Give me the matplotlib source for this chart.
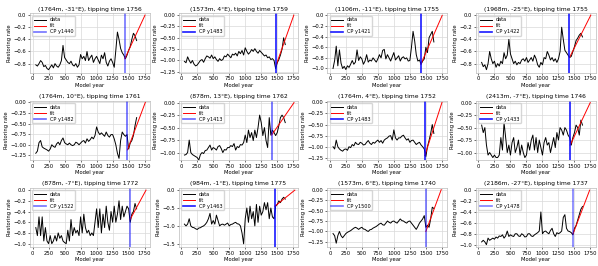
import numpy as np
import matplotlib.pyplot as plt
from matplotlib.ticker import MultipleLocator

# model years of the data series (every 25 years)
years = np.arange(50, 1626, 25)

titles = [
    "(1764m, -31°E), tipping time 1756", "(1573m, 4°E), tipping time 1759",
    "(1106m, -11°E), tipping time 1755", "(1968m, -25°E), tipping time 1755",
    "(1764m, 10°E), tipping time 1761", "(878m, 13°E), tipping time 1762",
    "(1764m, 4°E), tipping time 1752", "(2413m, -7°E), tipping time 1746",
    "(878m, -7°E), tipping time 1772", "(984m, -1°E), tipping time 1775",
    "(1573m, 6°E), tipping time 1740", "(2186m, -27°E), tipping time 1737",
]
tipping = [1756, 1759, 1755, 1755, 1761, 1762, 1752, 1746, 1772, 1775, 1740, 1737]
cp_year = [1440, 1483, 1421, 1422, 1482, 1413, 1483, 1433, 1522, 1463, 1500, 1478]
cp_value = [-0.72, -1.10, -0.92, -0.70, -1.12, -0.65, -1.20, -0.85, -0.55, -0.45, -1.00, -0.80]

rate1 = [-0.82, -0.84, -0.80, -0.75, -0.78, -0.85, -0.83, -0.88,
         -0.90, -0.86, -0.82, -0.87, -0.80, -0.84, -0.86, -0.82,
         -0.75, -0.50, -0.70, -0.74, -0.78, -0.80, -0.76, -0.82,
         -0.84, -0.80, -0.86, -0.82, -0.65, -0.72, -0.68, -0.75,
         -0.60, -0.75, -0.70, -0.66, -0.78, -0.72, -0.68, -0.74,
         -0.80, -0.66, -0.72, -0.62, -0.78, -0.84, -0.76, -0.72,
         -0.78, -0.86, -0.58, -0.28, -0.40, -0.55, -0.62, -0.66,
         -0.72, -0.66, -0.58, -0.52, -0.40, -0.30, -0.34, -0.42]
rate2 = [-1.02, -1.05, -0.92, -1.00, -1.06, -1.00, -1.08, -1.12,
         -1.10, -1.05, -1.00, -0.98, -1.04, -0.96, -0.90, -0.92,
         -0.95, -0.88, -0.96, -0.92, -0.98, -1.02, -0.96, -1.00,
         -0.98, -0.90, -0.92, -0.86, -0.90, -0.94, -0.86, -0.88,
         -0.84, -0.90, -0.80, -0.85, -0.78, -0.88, -0.72, -0.80,
         -0.86, -0.82, -0.76, -0.80, -0.74, -0.80, -0.84, -0.78,
         -0.82, -0.86, -0.90, -0.88, -0.94, -0.92, -0.98, -0.96,
         -1.00, -1.18, -1.05, -0.98, -0.88, -0.75, -0.50, -0.65]
rate3 = [-1.00, -0.85, -0.58, -0.95, -0.65, -0.90, -1.00, -0.96,
         -1.02, -0.95, -0.98, -0.92, -0.85, -0.92, -0.88, -0.65,
         -0.85, -0.78, -0.82, -0.92, -0.86, -0.74, -0.88, -0.84,
         -0.86, -0.80, -0.84, -0.88, -0.82, -0.74, -0.80, -0.66,
         -0.64, -0.82, -0.74, -0.80, -0.86, -0.78, -0.70, -0.84,
         -0.80, -0.76, -0.86, -0.80, -0.78, -0.82, -0.80, -0.86,
         -0.85, -0.60, -0.30, -0.48, -0.74, -0.86, -0.84, -0.92,
         -0.86, -0.82, -0.60, -0.70, -0.42, -0.36, -0.30, -0.50]
rate4 = [-0.78, -0.85, -0.82, -0.90, -0.80, -0.60, -0.72, -0.80,
         -0.76, -0.86, -0.80, -0.84, -0.76, -0.80, -0.62, -0.72,
         -0.66, -0.40, -0.64, -0.72, -0.80, -0.76, -0.82, -0.78,
         -0.80, -0.74, -0.72, -0.76, -0.70, -0.78, -0.74, -0.70,
         -0.76, -0.66, -0.72, -0.82, -0.86, -0.78, -0.82, -0.70,
         -0.72, -0.60, -0.66, -0.74, -0.70, -0.76, -0.72, -0.78,
         -0.72, -0.60, -0.20, -0.40, -0.58, -0.62, -0.66, -0.70,
         -0.68, -0.60, -0.52, -0.42, -0.38, -0.33, -0.30, -0.36]
rate5 = [-1.20, -1.15, -0.95, -0.90, -1.05, -1.08, -1.10, -1.12,
         -1.15, -1.10, -1.00, -1.04, -1.06, -0.98, -0.94, -1.00,
         -0.90, -0.84, -0.95, -0.98, -1.00, -0.96, -1.00, -1.02,
         -1.00, -0.94, -0.96, -1.00, -0.96, -0.92, -0.90, -0.96,
         -0.86, -0.92, -0.88, -0.82, -0.86, -0.78, -0.58, -0.70,
         -0.76, -0.72, -0.76, -0.80, -0.70, -0.78, -0.82, -0.76,
         -0.76, -0.86, -1.00, -1.20, -1.32, -0.90, -0.70, -0.76,
         -0.80, -0.76, -1.10, -0.96, -0.90, -0.78, -0.55, -0.36]
rate6 = [-1.05, -1.04, -1.00, -0.75, -1.00, -1.04, -1.06, -1.08,
         -1.10, -1.15, -1.04, -1.00, -1.02, -0.96, -0.95, -0.90,
         -0.85, -0.95, -0.90, -0.92, -0.95, -0.88, -0.86, -0.92,
         -1.00, -0.94, -0.95, -0.90, -0.90, -0.86, -0.88, -0.82,
         -0.95, -0.88, -0.90, -0.84, -0.85, -0.80, -0.65, -0.80,
         -0.55, -0.70, -0.60, -0.76, -0.55, -0.70, -0.50, -0.25,
         -0.40, -0.66, -0.50, -0.76, -0.90, -0.30, -0.65, -0.55,
         -0.60, -0.66, -0.60, -0.46, -0.30, -0.25, -0.30, -0.40]
rate7 = [-1.00, -1.05, -0.85, -1.00, -1.05, -1.08, -1.10, -1.06,
         -1.05, -1.08, -1.00, -1.02, -0.95, -0.98, -0.90, -0.94,
         -0.95, -0.90, -0.92, -0.96, -0.95, -0.90, -0.86, -0.92,
         -0.95, -0.90, -0.92, -0.88, -0.85, -0.90, -0.86, -0.92,
         -0.85, -0.82, -0.80, -0.76, -0.75, -0.85, -0.62, -0.80,
         -0.85, -0.80, -0.80, -0.76, -0.74, -0.80, -0.85, -0.82,
         -0.90, -0.86, -0.85, -0.90, -0.95, -0.92, -0.90, -0.96,
         -1.00, -1.05, -1.22, -1.00, -0.86, -0.70, -0.50, -0.70]
rate8 = [-0.45, -0.60, -0.50, -0.85, -1.05, -1.00, -1.05, -1.10,
         -1.05, -1.10, -1.10, -1.05, -0.70, -0.95, -0.40, -0.70,
         -1.00, -0.85, -1.05, -0.80, -0.70, -1.00, -0.90, -0.75,
         -1.05, -0.85, -1.00, -1.10, -1.05, -0.80, -0.95, -0.75,
         -0.65, -0.95, -0.70, -1.00, -0.75, -0.90, -1.05, -0.80,
         -0.70, -0.85, -0.80, -1.00, -0.85, -0.70, -0.90, -0.60,
         -0.75, -0.50, -0.55, -0.65, -0.50, -0.55, -0.65, -0.70,
         -0.85, -0.70, -0.60, -0.45, -0.50, -0.65, -0.35, -0.45]
rate9 = [-0.70, -0.85, -0.50, -0.85, -0.50, -0.95, -0.70, -0.95,
         -1.00, -0.85, -1.00, -0.95, -0.85, -0.95, -0.80, -0.90,
         -0.85, -0.95, -0.98, -1.00, -0.75, -0.95, -0.55, -0.85,
         -0.70, -0.80, -0.75, -0.85, -0.50, -0.80, -0.45, -0.70,
         -0.80, -0.75, -0.85, -0.80, -0.85, -0.60, -0.35, -0.70,
         -0.35, -0.80, -0.45, -0.70, -0.30, -0.60, -0.75, -0.40,
         -0.60, -0.30, -0.60, -0.45, -0.20, -0.55, -0.30, -0.50,
         -0.40, -0.30, -0.35, -0.60, -0.45, -0.40, -0.25, -0.35]
rate10 = [-0.95, -1.00, -0.95, -0.80, -1.00, -1.04, -1.05, -1.08,
          -1.10, -1.06, -1.05, -1.02, -1.00, -0.96, -0.90, -0.80,
          -0.65, -0.95, -0.85, -0.95, -0.70, -0.85, -1.00, -0.96,
          -0.95, -0.98, -0.95, -0.92, -1.00, -0.96, -0.95, -0.92,
          -0.90, -0.94, -0.95, -1.00, -1.20, -1.50, -0.80, -0.50,
          -0.90, -0.45, -0.80, -0.60, -1.00, -0.40, -0.90, -0.45,
          -0.70, -0.60, -0.35, -0.55, -0.35, -0.80, -0.50, -0.75,
          -0.80, -0.45, -0.40, -0.30, -0.35, -0.25, -0.20, -0.25]
rate11 = [-1.05, -1.10, -1.28, -1.10, -1.00, -1.10, -1.15, -1.10,
          -1.05, -1.02, -1.00, -0.98, -0.95, -0.92, -0.90, -0.92,
          -0.95, -0.92, -0.90, -0.94, -0.95, -0.98, -1.00, -0.96,
          -0.95, -0.92, -0.90, -0.88, -0.85, -0.82, -0.80, -0.84,
          -0.85, -0.80, -0.75, -0.78, -0.80, -0.76, -0.75, -0.78,
          -0.80, -0.75, -0.70, -0.74, -0.75, -0.78, -0.80, -0.76,
          -0.75, -0.80, -0.85, -0.90, -0.95, -0.88, -0.80, -0.75,
          -0.70, -0.62, -0.90, -0.85, -0.90, -0.70, -0.42, -0.45]
rate12 = [-0.95, -0.92, -0.95, -1.00, -0.88, -0.92, -0.90, -0.88,
          -0.90, -0.86, -0.88, -0.84, -0.85, -0.82, -0.88, -0.84,
          -0.75, -0.85, -0.82, -0.84, -0.85, -0.80, -0.80, -0.84,
          -0.85, -0.80, -0.82, -0.86, -0.85, -0.80, -0.80, -0.84,
          -0.85, -0.82, -0.80, -0.78, -0.75, -0.40, -0.80, -0.76,
          -0.75, -0.78, -0.80, -0.74, -0.70, -0.80, -0.85, -0.78,
          -0.80, -0.78, -0.75, -0.50, -0.45, -0.70, -0.75, -0.76,
          -0.78, -0.82, -0.70, -0.65, -0.55, -0.45, -0.35, -0.30]
rates = [rate1, rate2, rate3, rate4, rate5, rate6,
         rate7, rate8, rate9, rate10, rate11, rate12]

# axis ranges and tick spacing per panel
ylims = [(-0.95, 0.03), (-1.27, 0.04), (-1.08, 0.04), (-0.95, 0.03),
         (-1.36, 0.04), (-1.15, 0.04), (-1.30, 0.04), (-1.15, 0.04),
         (-1.07, 0.04), (-1.60, 0.06), (-1.38, 0.04), (-1.05, 0.04)]
ysteps = [0.2, 0.25, 0.2, 0.2, 0.25, 0.25, 0.25, 0.25, 0.2, 0.5, 0.25, 0.2]
cp_alpha = [0.55, 0.9, 0.9, 0.9, 0.6, 0.6, 0.9, 0.9, 0.55, 0.9, 0.55, 0.5]

fig, axes = plt.subplots(3, 4, figsize=(5.98, 2.66), dpi=100)
fig.subplots_adjust(left=0.05, right=0.996, top=0.95, bottom=0.07,
                    wspace=0.24, hspace=0.47)

for i, ax in enumerate(axes.flat):
    ax.plot(years, rates[i], color="black", lw=0.7, label="data")
    ax.plot([cp_year[i], tipping[i]], [cp_value[i], 0.0], color="red", lw=0.7, label="fit")
    ax.axvline(cp_year[i], color="blue", lw=1.2, alpha=cp_alpha[i], label="CP y%d" % cp_year[i])
    ax.set_xlim(-42, 1830)
    ax.set_ylim(*ylims[i])
    ax.xaxis.set_major_locator(MultipleLocator(250))
    ax.yaxis.set_major_locator(MultipleLocator(ysteps[i]))
    ax.grid(True, color="#d9d9d9", lw=0.5)
    ax.set_axisbelow(True)
    for s in ax.spines.values():
        s.set_color("#bbbbbb")
        s.set_linewidth(0.5)
    ax.tick_params(labelsize=3.8, length=1.5, width=0.4, pad=1)
    ax.set_title(titles[i], fontsize=4.3, pad=2)
    ax.set_xlabel("Model year", fontsize=3.8, labelpad=1)
    ax.set_ylabel("Restoring rate", fontsize=3.8, labelpad=1)
    ax.legend(loc="upper left", fontsize=3.6, handlelength=2.4, borderpad=0.3,
              labelspacing=0.2, frameon=True, framealpha=0.8)

fig.savefig("out.png", dpi=100)
